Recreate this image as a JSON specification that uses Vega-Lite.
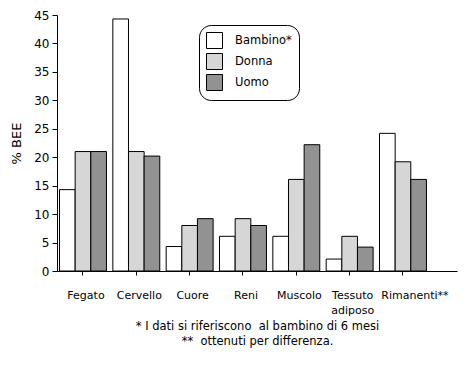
{
  "$schema": "https://vega.github.io/schema/vega-lite/v6.json",
  "width": 400,
  "height": 256,
  "autosize": {"type": "none"},
  "padding": {"left": 57, "top": 15, "right": 10, "bottom": 96},
  "background": "white",
  "config": {
    "view": {"stroke": null},
    "font": "DejaVu Sans",
    "axis": {"labelFont": "DejaVu Sans", "titleFont": "DejaVu Sans", "labelColor": "black", "titleColor": "black", "domainColor": "black", "tickColor": "black", "grid": false, "titleFontWeight": "normal"}
  },
  "data": {
    "values": [
      {"organo": "Fegato", "gruppo": "Bambino*", "v": 14.3},
      {"organo": "Fegato", "gruppo": "Donna", "v": 21},
      {"organo": "Fegato", "gruppo": "Uomo", "v": 21},
      {"organo": "Cervello", "gruppo": "Bambino*", "v": 44.3},
      {"organo": "Cervello", "gruppo": "Donna", "v": 21},
      {"organo": "Cervello", "gruppo": "Uomo", "v": 20.2},
      {"organo": "Cuore", "gruppo": "Bambino*", "v": 4.3},
      {"organo": "Cuore", "gruppo": "Donna", "v": 8},
      {"organo": "Cuore", "gruppo": "Uomo", "v": 9.2},
      {"organo": "Reni", "gruppo": "Bambino*", "v": 6.1},
      {"organo": "Reni", "gruppo": "Donna", "v": 9.2},
      {"organo": "Reni", "gruppo": "Uomo", "v": 8},
      {"organo": "Muscolo", "gruppo": "Bambino*", "v": 6.1},
      {"organo": "Muscolo", "gruppo": "Donna", "v": 16.1},
      {"organo": "Muscolo", "gruppo": "Uomo", "v": 22.2},
      {"organo": "Tessuto adiposo", "gruppo": "Bambino*", "v": 2.1},
      {"organo": "Tessuto adiposo", "gruppo": "Donna", "v": 6.1},
      {"organo": "Tessuto adiposo", "gruppo": "Uomo", "v": 4.2},
      {"organo": "Rimanenti**", "gruppo": "Bambino*", "v": 24.2},
      {"organo": "Rimanenti**", "gruppo": "Donna", "v": 19.2},
      {"organo": "Rimanenti**", "gruppo": "Uomo", "v": 16.1}
    ]
  },
  "mark": {"type": "bar", "stroke": "black", "strokeWidth": 1},
  "encoding": {
    "x": {
      "field": "organo",
      "type": "nominal",
      "sort": null,
      "scale": {"paddingInner": 0.12, "paddingOuter": 0.31, "align": 0.076},
      "axis": {
        "labelAngle": 0,
        "labelFontSize": 11,
        "labelPadding": 14,
        "labelOffset": {"condition": {"test": "datum.value == 'Rimanenti**'", "value": 12}, "value": 3},
        "tickSize": 4,
        "labelExpr": "datum.value == 'Tessuto adiposo' ? ['Tessuto', 'adiposo'] : datum.value",
        "labelLineHeight": 15,
        "title": ["* I dati si riferiscono \u00a0al bambino di 6 mesi", "**\u00a0 ottenuti per differenza."],
        "titleFontSize": 11.5,
        "titlePadding": 5,
        "titleLineHeight": 15
      }
    },
    "xOffset": {"field": "gruppo", "type": "nominal", "scale": {"paddingInner": 0, "paddingOuter": 0}},
    "y": {
      "field": "v",
      "type": "quantitative",
      "scale": {"domain": [0, 45], "nice": false},
      "axis": {"values": [0, 5, 10, 15, 20, 25, 30, 35, 40, 45], "labelFontSize": 12, "tickSize": 5, "labelPadding": 3, "title": "% BEE", "titleFontSize": 13, "titleColor": "black", "titlePadding": 10}
    },
    "fill": {
      "field": "gruppo",
      "type": "nominal",
      "scale": {"domain": ["Bambino*", "Donna", "Uomo"], "range": ["#ffffff", "#d6d6d6", "#929292"]},
      "legend": {
        "title": null,
        "orient": "none",
        "legendX": 142,
        "legendY": 10,
        "direction": "vertical",
        "symbolType": "square",
        "symbolSize": 256,
        "symbolStrokeColor": "black",
        "symbolStrokeWidth": 1,
        "labelFontSize": 11.5,
        "labelColor": "black",
        "labelOffset": 12,
        "rowPadding": 0,
        "padding": 7,
        "strokeColor": "black",
        "cornerRadius": 12,
        "fillColor": "white"
      }
    }
  }
}
